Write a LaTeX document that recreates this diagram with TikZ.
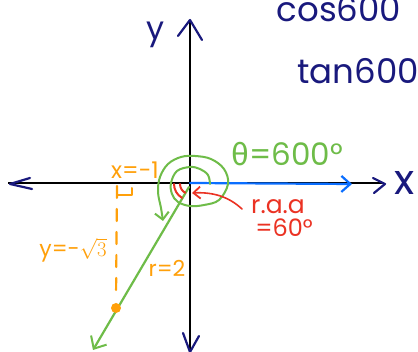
\documentclass[tikz,border=0pt]{standalone}
\usepackage{fontspec}
\setmainfont{Poppins}
\newfontfamily\grk{Fira Sans}
\usetikzlibrary{arrows.meta}
\definecolor{navy}{RGB}{25,25,125}
\definecolor{hgreen}{RGB}{110,188,72}
\definecolor{horange}{RGB}{255,160,10}
\definecolor{hred}{RGB}{235,50,35}
\definecolor{hblue}{RGB}{10,110,255}
\tikzset{
  axis/.style={line width=1.4pt,black},
  pen/.style={line width=2.2pt,line cap=round,line join=round},
  chev/.style={pen,navy},
  lbl/.style={inner sep=0pt,anchor=center},
}
\begin{document}
\begin{tikzpicture}[x=1pt,y=-1pt]
\fill[white] (0,0) rectangle (418,352);
\useasboundingbox (0,0) rectangle (418,352);
% key points
\coordinate (O) at (190,183);
\coordinate (xl) at (8,183);
\coordinate (xr) at (384,183);
\coordinate (yt) at (190,20);
\coordinate (yb) at (190,352);
\coordinate (Tend) at (93,350);
\coordinate (Bend) at (352,184);
% axes
\draw[axis] (xl) -- (xr);
\draw[axis] (yt) -- (yb);
% hand-drawn axis arrowheads
\draw[chev] (178,36) -- (yt) -- (202,40);
\draw[chev] (183,333) -- (190,352) -- (199,336);
\draw[chev] (30,178) -- (10,184) -- (32,189);
\draw[chev] (373,178) -- (385,184) -- (374,193);
% axis labels
\node[lbl,text=navy,font=\fontsize{42}{42}\selectfont] (lx) at (405,183) {x};
\node[lbl,text=navy,font=\fontsize{32}{32}\selectfont] (ly) at (156,35) {y};
% blue initial side
\draw[pen,hblue,-{Straight Barb[length=9pt,width=16pt,line width=2.2pt]}] (O) -- (Bend);
% green terminal side
\draw[pen,hgreen,-{Straight Barb[length=10pt,width=18pt,line width=2pt]}] (189,187) -- (Tend);
% green spiral
\draw[pen,hgreen,line width=2pt,-{Straight Barb[length=7pt,width=14pt,line width=2pt]}] plot[smooth,tension=0.6] coordinates {
 (210,184) (208,175) (200,169) (190,167) (177,171) (171,183) (172,194) (178,202) (190,206) (204,205) (219,200) (228,184) (224,169) (211,159) (195,156) (181,157) (168,164) (160,177) (158,192) (161,208) (163,221)};
% red angle marks
\draw[pen,hred,line width=2pt] (180,184) arc[start angle=180,end angle=118,radius=10];
\draw[pen,hred,line width=2pt] (174,184) arc[start angle=180,end angle=120,radius=16];
% red pointer
\coordinate (rtip) at (192,193);
\draw[pen,hred,line width=1.6pt,-{Straight Barb[length=7pt,width=12pt,line width=1.8pt]}] (242,209) .. controls (228,196) and (212,192) .. (rtip);
% orange dashed line and point
\coordinate (P) at (116,308);
\draw[pen,horange,line width=2.2pt,dash pattern=on 12pt off 11pt] (117,186) -- (116,300);
\fill[horange] (P) circle (5);
\draw[pen,horange,line width=2pt] (117,195) -- (132,195) -- (132,188);
% texts
\node[lbl,text=navy,font=\fontsize{34}{34}\selectfont] (cos) at (339,9) {cos600};
\node[lbl,text=navy,font=\fontsize{34}{34}\selectfont] (tan) at (358,71) {tan600};
\node[lbl,text=hgreen,font=\fontsize{31}{31}\selectfont] (theta) at (287,154) {{\grk θ}=600°};
\node[lbl,text=hred,font=\fontsize{25}{25}\selectfont] (raa) at (278,207) {r.a.a};
\node[lbl,text=hred,font=\fontsize{24}{24}\selectfont] (sixty) at (284,228) {=60°};
\node[lbl,text=horange,font=\fontsize{23}{23}\selectfont] (xm) at (135,170) {x=-1};
\node[lbl,text=horange,font=\fontsize{22}{22}\selectfont] (ym) at (73,250) {y=-$\sqrt{3}$};
\node[lbl,text=horange,font=\fontsize{22}{22}\selectfont] (r2) at (167,268) {r=2};
\end{tikzpicture}
\end{document}
